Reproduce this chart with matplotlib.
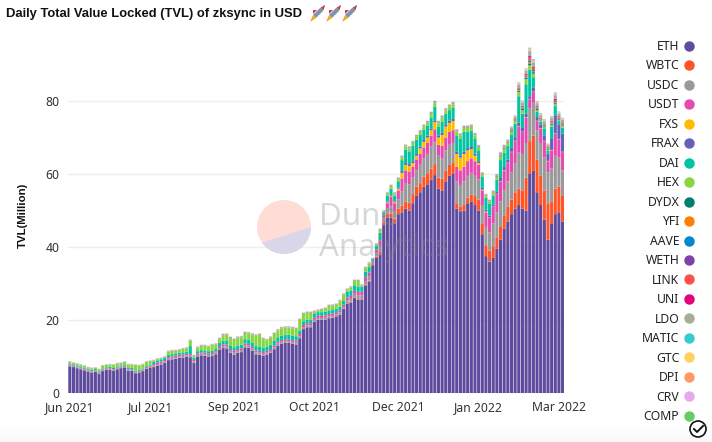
import matplotlib
matplotlib.use('Agg')
import numpy as np
import matplotlib.pyplot as plt
from matplotlib.patches import Circle, Polygon

plt.rcParams['font.family'] = ['Noto Sans', 'DejaVu Sans']

W, H = 712, 442

tick_pos = [0, 22, 45, 67, 90, 112, 134]
tick_labels = ['Jun 2021', 'Jul 2021', 'Sep 2021', 'Oct 2021', 'Dec 2021', 'Jan 2022', 'Mar 2022']

# values in million USD, one bar every two days
eth = [7.3, 7.1, 6.8, 6.5, 6.2, 5.9, 5.6, 5.8, 5.2, 6.0,
       6.3, 6.4, 6.1, 6.5, 6.8, 7.0, 6.1, 6.1, 5.4, 5.6,
       6.0, 6.6, 7.0, 7.1, 7.5, 7.8, 8.2, 9.0, 9.2, 9.4,
       9.6, 9.7, 9.9, 9.8, 8.2, 10.0, 10.3, 10.2, 10.0, 10.1,
       10.6, 11.8, 12.3, 12.2, 11.0, 10.5, 11.0, 11.2, 12.5, 12.4,
       11.6, 10.6, 10.5, 10.2, 10.5, 11.0, 12.0, 13.0, 13.5, 13.7,
       13.7, 13.5, 13.3, 15.0, 17.5, 18.0, 18.0, 19.5, 20.0, 20.0,
       20.1, 20.5, 20.6, 21.0, 21.5, 23.0, 24.5, 24.8, 26.0, 25.5,
       25.5, 29.5, 30.5, 35.0, 37.0, 38.0, 46.0, 48.0, 48.0, 46.5,
       49.0, 49.5, 50.5, 50.0, 52.0, 54.0, 55.0, 56.5, 57.0, 58.5,
       59.7, 56.0, 55.5, 58.0, 59.5, 60.0, 50.5, 49.8, 50.0, 52.0,
       52.5, 51.5, 50.0, 43.5, 37.5, 36.0, 37.0, 39.5, 42.0, 45.0,
       47.0, 49.0, 50.5, 51.5, 50.5, 50.0, 60.0, 61.0, 55.0, 51.5,
       47.5, 42.0, 46.5, 49.0, 49.5, 47.0]
wbtc = [0.05] * 75 + [0.1, 0.1, 0.2, 0.2, 0.2, 0.2] + [
    0.2, 0.3, 0.3, 0.4, 0.8, 0.8, 1, 1.2, 1.3, 1.5,
    1.8, 2, 2.2, 2.5, 2.5, 2.5, 2.8, 3, 3, 3,
    3, 3.2, 3, 3, 3, 1.5, 1.2, 1.5, 1.5, 1.8,
    2.5, 3, 3, 3, 3, 3, 3, 3.5, 3.5, 4,
    4, 4.5, 4.5, 5, 9, 9, 9.5, 9, 8, 8,
    10, 6, 7, 7, 7]
usdc = [0.2] * 23 + [0.4] * 18 + [0.5] * 35 + [0.8, 0.8, 1, 1, 1] + [
    1, 1.2, 0.4, 1, 1.5, 1, 1.5, 2, 2, 2.5,
    4, 5, 5, 4.5, 4.5, 5, 5, 5.5, 6, 6,
    6, 5.5, 5.5, 5.5, 5.5, 6, 6, 6.5, 6, 6,
    5.5, 5.5, 5, 5, 5, 6.5, 7, 7, 7, 7,
    7.5, 8, 10, 10, 9.5, 9, 9, 8, 9, 9,
    8.5, 9, 9, 8, 7]
usdt = [0.2] * 23 + [0.4] * 18 + [0.5] * 22 + [0.6] * 13 + [0.8, 0.8, 0.8, 1, 1] + [
    1, 1, 0.4, 0.8, 1.5, 0.8, 1.5, 2.5, 2.2, 2.5,
    3.5, 3.5, 3.5, 3, 3, 3, 3, 3, 3, 3.5,
    3, 3.5, 3.5, 3.5, 3.5, 4, 4, 4, 4, 4,
    4, 4, 4, 4, 4, 4.5, 5, 5.5, 5.5, 5,
    5.5, 6, 7, 6, 7, 2.5, 3, 2.5, 4, 4.5,
    3, 5, 6, 5, 5]
fxs = [0] * 81 + [
    0, 0, 0, 0, 0, 0, 0.2, 0.3, 0.3, 0.5,
    1.5, 1.5, 1.5, 1, 1, 1.5, 1.5, 1.5, 1.5, 2,
    2, 3, 3, 2.5, 2.5, 3.5, 3.5, 3.5, 3, 2.5,
    1.5, 0.5, 0.2, 0.2, 0.1, 0.1, 0.1, 0.1, 0.1, 0.1,
    0.1, 0.1, 0.1, 0.1, 0.1, 0.1, 0.1, 0.1, 0.1, 0.1,
    0.1, 0.1, 0.1, 0.1, 0.1]
frax = [0] * 81 + [
    0.1, 0.1, 0.1, 0.1, 0.1, 0.2, 0.2, 0.2, 0.2, 0.2,
    0.5, 0.5, 0.5, 0.5, 0.5, 0.5, 0.5, 0.5, 0.5, 0.5,
    0.6, 0.6, 0.6, 0.6, 0.6, 0.6, 0.6, 0.6, 0.6, 0.6,
    0.6, 0.5, 0.5, 0.5, 0.5, 0.5, 0.5, 0.8, 0.8, 0.8,
    1, 1, 1, 1, 1, 0.7, 1, 1, 1, 1.5,
    2, 3, 5, 4, 5]
dai = [0.3] * 23 + [0.6] * 10 + [2.2] + [0.6] * 7 + [1.0] * 7 + [1.2] * 15 + [1.0] * 13 + [1.5] * 5 + [
    1.4, 1.4, 0.5, 1, 2, 0.7, 1.7, 1.8, 1.6, 1.8,
    3, 3.7, 3.5, 4.2, 3.9, 3.2, 2.9, 2.7, 3, 3.7,
    2.4, 3.1, 2.9, 2.9, 3, 4.5, 4.5, 5.5, 4.5, 4.5,
    4, 3, 3, 3.3, 3.2, 2.5, 3.3, 4.9, 4, 3.9,
    3.6, 3.7, 7.2, 3.9, 8, 7.3, 2.9, 1.4, 0.7, 1.9,
    0.8, 3.4, 2.5, 0.9, 1.6]
hex_ = [0.45, 0.35, 0.45, 0.45, 0.45, 0.35, 0.45, 0.35, 0.55, 0.75,
        0.65, 0.65, 0.85, 0.85, 0.65, 0.75, 0.95, 0.95, 1.5, 1.2,
        1.1, 1.2, 1.0, 0.3, 0.3, 0.2, 0.2, 0.9, 0.9, 0.7,
        0.7, 0.9, 0.9, 1.5, 0.6, 1.0, 1.2, 1.3, 1.3, 1.6,
        1.3, 0.9, 1.5, 1.7, 2, 2, 2.1, 2, 1.7, 1.7,
        2.2, 2.9, 3.2, 2.3, 1.7, 1.9, 1.9, 1.9, 2, 2,
        2, 2, 2, 2.9, 2, 1.8, 1.8, 0.6, 0.4, 0.6,
        0.8, 1.2, 1.2, 1, 1.5, 1.8, 0.6, 0.8, 1.2, 1.5,
        0.2, 1, 1, 0.2, 0.5, 0.8, 0.3, 0.6, 0.7, 0.6,
        0.6, 0.7, 0.8, 0.8, 0.8, 0.8, 0.8, 0.8, 0.8, 0.9,
        1, 0.9, 1, 0.9, 0.9, 1, 1, 0.9, 1, 1,
        1, 0.9, 0.8, 0.6, 0.5, 0.6, 0.7, 0.8, 1, 0.9,
        0.7, 0.8, 0.7, 1.2, 1, 1.4, 1.2, 1, 0.5, 0.4,
        0.5, 0.3, 0.5, 0.5, 0.3, 0.4]

# thin tokens only show from January on
before = [0] * 112
dydx = before + [0.05, 0.05, 0.05, 0.05, 0.05, 0.05, 0.1, 0.1, 0.1, 0.1, 0.1, 0.3,
                 0.3, 0.3, 0.5, 0.4, 0.3, 0.2, 0.2, 0.2, 0.3, 0.3, 0.2, 0.2]
yfi = before + [0, 0, 0, 0, 0, 0.05, 0.1, 0.1, 0.05, 0.1, 0.1, 0.2,
                0.2, 0.2, 0.4, 0.3, 0.2, 0.1, 0.1, 0.1, 0.2, 0.2, 0.2, 0.2]
aave = before + [0, 0, 0, 0, 0, 0.05, 0.1, 0.1, 0.05, 0.1, 0.1, 0.2,
                 0.2, 0.2, 0.4, 0.3, 0.2, 0.1, 0.1, 0.1, 0.1, 0.2, 0.1, 0.1]
weth = before + [0, 0, 0, 0, 0, 0, 0.05, 0.05, 0, 0.05, 0.05, 0.1,
                 0.1, 0.2, 0.3, 0.2, 0.1, 0.1, 0.1, 0.05, 0.1, 0.2, 0.1, 0.1]
link = before + [0.05, 0.05, 0.05, 0.05, 0.05, 0.05, 0.1, 0.1, 0.1, 0.1, 0.1, 0.2,
                 0.2, 0.3, 0.5, 0.4, 0.2, 0.2, 0.2, 0.2, 0.2, 0.3, 0.2, 0.2]
uni = before + [0, 0, 0, 0, 0, 0.05, 0.05, 0.05, 0.05, 0.1, 0.1, 0.2,
                0.2, 0.2, 0.4, 0.3, 0.2, 0.1, 0.1, 0.1, 0.2, 0.3, 0.2, 0.2]
ldo = [0.1] * 23 + [0.2] * 18 + [0.3] * 40 + [
    0.3, 0.3, 0.1, 0.2, 0.3, 0.2, 0.3, 0.3, 0.3, 0.4,
    0.5, 0.5, 0.5, 0.5, 0.5, 0.5, 0.5, 0.5, 0.6, 0.6,
    0.6, 0.6, 0.6, 0.6, 0.6, 0.6, 0.6, 0.6, 0.6, 0.6,
    0.7, 0.5, 0.5, 0.4, 0.4, 0.5, 0.5, 0.6, 0.6, 0.5,
    0.7, 0.7, 0.8, 0.8, 0.9, 1.2, 1.0, 0.7, 0.6, 0.6,
    0.6, 0.7, 0.9, 0.7, 0.7]
matic = before + [0, 0, 0, 0, 0, 0, 0.05, 0.05, 0, 0.05, 0.05, 0.1,
                  0.1, 0.1, 0.2, 0.2, 0.1, 0.1, 0.1, 0.05, 0.1, 0.2, 0.1, 0.1]
gtc = before + [0, 0, 0, 0, 0, 0, 0, 0, 0, 0.05, 0.05, 0.1,
                0.1, 0.1, 0.2, 0.2, 0.1, 0.1, 0.1, 0.05, 0.1, 0.1, 0.1, 0.1]
dpi = before + [0, 0, 0, 0, 0, 0, 0, 0, 0, 0.05, 0.05, 0.1,
                0.1, 0.1, 0.2, 0.2, 0.1, 0.1, 0.1, 0.05, 0.1, 0.1, 0.1, 0.1]
crv = [0.1] * 112 + [0.1, 0.1, 0.1, 0.1, 0.1, 0.1, 0.1, 0.1, 0.1, 0.1, 0.1, 0.2,
                     0.2, 0.2, 0.3, 0.3, 0.2, 0.2, 0.2, 0.1, 0.2, 0.3, 0.2, 0.2]
comp = before + [0, 0, 0, 0, 0, 0, 0, 0, 0, 0.05, 0.05, 0.1,
                 0.1, 0.1, 0.2, 0.2, 0.1, 0.1, 0.1, 0.05, 0.1, 0.1, 0.1, 0.1]

series = [
    ('ETH', eth, '#5f4b9e'), ('WBTC', wbtc, '#ff5426'), ('USDC', usdc, '#999999'),
    ('USDT', usdt, '#e54ab2'), ('FXS', fxs, '#ffbb00'), ('FRAX', frax, '#6660b8'),
    ('DAI', dai, '#00c4a3'), ('HEX', hex_, '#86d63f'), ('DYDX', dydx, '#007f6d'),
    ('YFI', yfi, '#ff8000'), ('AAVE', aave, '#0088cc'), ('WETH', weth, '#8040a8'),
    ('LINK', link, '#ff5050'), ('UNI', uni, '#e6007e'), ('LDO', ldo, '#a8ad98'),
    ('MATIC', matic, '#33ccd0'), ('GTC', gtc, '#ffd060'), ('DPI', dpi, '#ff9966'),
    ('CRV', crv, '#e8a8ee'), ('COMP', comp, '#66cc66'),
]

fig = plt.figure(figsize=(W / 100, H / 100), dpi=100)
ax = fig.add_axes([68 / W, 1 - 393 / H, (564.4 - 68) / W, (393 - 40) / H])

x = np.arange(len(eth))
bottom = np.zeros(len(eth))
for name, vals, col in series:
    vals = np.array(vals, dtype=float)
    bars = ax.bar(x, vals, width=0.85, bottom=bottom, color=col, linewidth=0, label=name, zorder=2)
    for b in bars:
        b.set_snap(False)
    bottom += vals

ax.set_xlim(-0.5, 135.5)
ax.set_ylim(0, (393 - 40) / 3.65)
ax.set_yticks([0, 20, 40, 60, 80])
ax.set_xticks(tick_pos)
ax.set_xticklabels(tick_labels)
ax.tick_params(length=0, labelsize=8.8, labelcolor='#333333', pad=6)
ax.grid(axis='y', color='#eeeeee', linewidth=1, zorder=0)
ax.set_axisbelow(True)
for s in ax.spines.values():
    s.set_visible(False)

bold_font = ['Liberation Sans', 'DejaVu Sans']
fig.text(23 / W, 1 - 215 / H, 'TVL(Million)', rotation=90, ha='center', va='center',
         fontsize=8.2, fontweight='bold', family=bold_font, color='#111111')
fig.text(6 / W, 1 - 14 / H, 'Daily Total Value Locked (TVL) of zksync in USD', ha='left', va='center',
         fontsize=9.35, fontweight='bold', family=bold_font, color='#111111')

# legend down the right side, labels left of the dots
handles = [plt.Line2D([], [], marker='o', linestyle='', markersize=6.5, color=c) for _, _, c in series]
fig.legend(handles, [s[0] for s in series], loc='upper right', bbox_to_anchor=(694 / W, 1 - 40 / H),
           frameon=False, markerfirst=False, fontsize=8.8, labelspacing=0.53, handletextpad=0.3,
           handlelength=0.9, borderpad=0, borderaxespad=0, labelcolor='#222222')

# overlay in pixel coordinates for the watermark and the decorations
ov = fig.add_axes([0, 0, 1, 1], facecolor='none')
ov.set_xlim(0, W)
ov.set_ylim(H, 0)
ov.axis('off')

circ = Circle((284, 227), 27, facecolor='#ffdcd4', edgecolor='none', alpha=0.95)
ov.add_patch(circ)
lav = Polygon([(255, 245), (315, 225.8), (315, 260), (255, 260)], facecolor='#d8d6e8', edgecolor='none')
ov.add_patch(lav)
lav.set_clip_path(circ)
ov.text(319, 225, 'Dune', fontsize=22.5, color='#888888', alpha=0.32, ha='left', va='baseline')
ov.text(319, 256, 'Analytics', fontsize=22.5, color='#888888', alpha=0.32, ha='left', va='baseline')

# rockets after the title, no emoji font is installed
for rx in [318, 334, 350]:
    ov.add_patch(Polygon([(rx - 5, 15), (rx + 2, 8), (rx + 7, 5), (rx + 5, 11), (rx - 2, 18)],
                         facecolor='#7f93b5', edgecolor='none'))
    ov.add_patch(Polygon([(rx + 3, 7.5), (rx + 7, 5), (rx + 5.5, 10)], facecolor='#e0383e', edgecolor='none'))
    ov.add_patch(Polygon([(rx - 5, 15), (rx - 2, 18), (rx - 8, 22)], facecolor='#f5a623', edgecolor='none'))
    ov.add_patch(Polygon([(rx - 5, 10), (rx - 1, 10), (rx - 5, 14)], facecolor='#e0383e', edgecolor='none'))

# faint fade at the bottom and the check badge
fade = np.linspace(0, 1, 20).reshape(-1, 1)
ov.imshow(fade, extent=(0, W, H, 425), cmap='Greys', vmin=0, vmax=22, aspect='auto', zorder=0)
ov.set_xlim(0, W)
ov.set_ylim(H, 0)
ov.add_patch(Circle((698, 429), 8, facecolor='white', edgecolor='#111111', linewidth=1.2))
ov.plot([694, 697, 703], [429, 432, 426], color='#111111', linewidth=1.4)

fig.savefig('out.png', dpi=100)
